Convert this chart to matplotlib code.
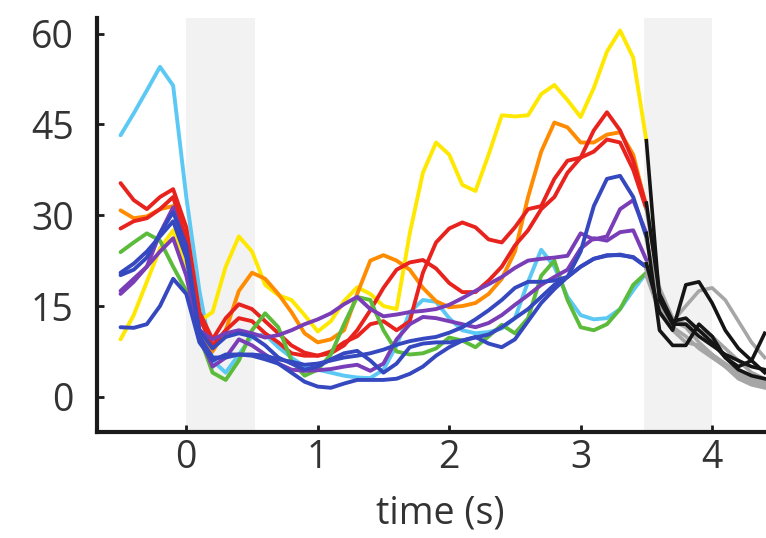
import matplotlib
matplotlib.use("Agg")
import matplotlib.pyplot as plt

# ---------------- data ----------------
time = [-0.5, -0.4, -0.3, -0.2, -0.1, 0.0, 0.1, 0.2, 0.3, 0.4, 0.5, 0.6, 0.7, 0.8, 0.9,
        1.0, 1.1, 1.2, 1.3, 1.4, 1.5, 1.6, 1.7, 1.8, 1.9, 2.0, 2.1, 2.2, 2.3, 2.4, 2.5,
        2.6, 2.7, 2.8, 2.9, 3.0, 3.1, 3.2, 3.3, 3.4, 3.5]

light_blue = [43.2, 46.8, 50.6, 54.5, 51.4, 33, 17.5, 6, 4, 7, 10, 10.3, 8.2, 6.5, 5.0,
              4.5, 4, 3.5, 3.2, 3.1, 4.5, 8.5, 14, 16, 15.7, 13, 11, 10.5, 10.7, 11.3, 13,
              19, 24.3, 21.5, 16.5, 13.5, 12.8, 13, 14.5, 17.6, 20.5]
yellow = [9.5, 13.5, 19, 24.5, 27.5, 21, 12.5, 14, 21.5, 26.5, 24, 18.5, 16.8, 16, 13.5,
          10.8, 12.5, 15.8, 18.1, 17, 15, 14.5, 27, 37, 42, 40, 35, 34, 40, 46.5, 46.3,
          46.5, 50, 51.5, 49, 46.2, 51, 57, 60.5, 56, 42.3]
orange = [30.8, 29.5, 29.8, 31, 31.5, 24, 11, 7.5, 11, 17.5, 20.5, 19.5, 17, 14, 10.5,
          9, 9.5, 11, 17, 22.5, 23.4, 22.5, 21, 18, 15.8, 14.8, 15, 15.5, 17, 19.5, 24,
          33, 40.5, 45.3, 44.5, 42, 42, 43.3, 43.7, 40, 31.3]
red_a = [35.3, 32.5, 31, 33, 34.3, 28, 14, 9.5, 13, 15.3, 14.5, 12.5, 10.5, 8.5, 7.3,
         6.8, 7.2, 8.5, 11, 14.3, 18, 21, 22.2, 22.6, 21.2, 18.8, 17.3, 17.3, 19.2, 21.5, 25,
         27.5, 31, 33, 37, 39.5, 44, 47, 44, 39, 31.5]
red_b = [27.8, 29, 29.5, 31, 33, 26, 13, 8.5, 11, 13, 12.5, 10.5, 9, 7.2, 6.8,
         6.8, 7.5, 9, 10, 12, 12.5, 11, 12.5, 20.5, 25.5, 27.8, 28.8, 28, 26, 25.5, 28,
         31, 31.5, 36, 39, 39.5, 40.5, 42.5, 42, 37.5, 31]
green = [23.9, 25.5, 27, 25.8, 21.5, 17.5, 10, 4, 2.8, 6, 11, 13.8, 11.5, 6, 3.5,
         4.5, 7, 12, 16.5, 16, 11, 7.5, 7, 7.2, 8, 9.8, 9.3, 8.2, 10, 11.9, 10.5,
         13, 20, 22.5, 16, 11.5, 11, 12, 14.5, 18.5, 20.5]
purple_a = [17, 19, 21.5, 27, 31.3, 24, 11, 9.5, 10.5, 11, 10.5, 9.8, 10.2, 11, 12,
            12.8, 13.8, 15.3, 16.5, 14.5, 13.3, 13.6, 14, 14.2, 14.5, 15.2, 16.3, 17.5, 18.6, 19.8, 21.3,
            22.5, 22.8, 23, 23.3, 27, 26, 26.5, 31, 32.5, 27]
purple_b = [17.5, 19.5, 21.5, 24, 26.2, 20, 10, 5, 6.5, 9.5, 8.5, 7, 5.5, 4.5, 4.3,
            4.4, 4.6, 5, 5.3, 4.3, 5.5, 9.5, 12, 13.2, 13, 12.5, 12, 11.5, 12.2, 13.5, 15.2,
            16.8, 18.5, 19.8, 21, 24.5, 26.2, 25.8, 27.2, 27.5, 22.6]
blue_a = [11.5, 11.4, 12, 15, 19.5, 17, 9, 6, 7, 7, 6.8, 6.2, 5.5, 4, 2.5,
          1.7, 1.5, 2.2, 2.8, 2.8, 2.8, 3, 3.8, 5, 6.8, 8.2, 9.3, 9.9, 8.8, 8.2, 9.5,
          12.5, 15.5, 17.8, 19.8, 24, 31.5, 36, 36.5, 33, 26.4]
blue_b = [20.5, 22, 24, 26.5, 29, 23, 11, 8, 9.9, 10.5, 10, 8.5, 6.5, 5.5, 4.5,
          5, 6.2, 7.2, 7.6, 6, 4, 5.5, 8.2, 8.8, 9, 9, 9.3, 9.8, 10.3, 11.5, 13,
          14.5, 16.5, 18.5, 19.8, 21.5, 22.8, 23.3, 23.5, 23, 21.5]
blue_c = [20.1, 21, 23, 27, 30.5, 25, 10, 6.5, 6.5, 7, 7, 6.8, 6.2, 5.8, 5.3,
          5.5, 6, 6.5, 6.8, 7.2, 7.8, 8.6, 9.2, 9.6, 9.9, 10.6, 11.5, 12.8, 14.3, 16, 18,
          19, 19, 19.2, 19.8, 21.5, 22.8, 23.4, 23.4, 23.1, 21.4]

series = [
    (light_blue, "#5CC8F4"), (yellow, "#FFE800"), (orange, "#FF8C00"),
    (red_a, "#E8231E"), (red_b, "#E8231E"), (green, "#5CBB3A"),
    (purple_a, "#7A3DB8"), (purple_b, "#7A3DB8"),
    (blue_a, "#3548C0"), (blue_b, "#3548C0"), (blue_c, "#3548C0"),
]

post_time = [3.5, 3.6, 3.7, 3.8, 3.9, 4.0, 4.1, 4.2, 4.3, 4.4]
post_gray = [
    [21, 15, 12.5, 15, 17.5, 18, 16, 12.5, 9, 6.5],
    [31, 18, 13, 12, 11, 10, 8, 6, 4, 3],
    [20, 14, 11, 9, 8.5, 7, 5, 3.5, 2.5, 2],
    [26, 16, 12.5, 11.5, 9, 7, 5.5, 4, 3, 2.5],
    [22, 15, 11.5, 10, 8, 6.5, 5, 3, 2, 1.5],
]
post_black = [
    [42.3, 16, 12, 12, 10, 8.5, 7, 6, 5, 4.5],
    [22, 14, 11, 18.5, 19, 15.5, 11, 8, 6, 4],
    [27, 11, 8.5, 8.5, 12, 10, 6.5, 5, 6, 10.5],
    [32, 17, 12.5, 13, 11, 9, 6.5, 4.5, 3.5, 3],
]

shaded = [(0.0, 0.52), (3.48, 4.0)]
yticks = [0, 15, 30, 45, 60]
xticks = [0, 1, 2, 3, 4]

# ---------------- plot ----------------
plt.rcParams['font.family'] = ['Open Sans', 'DejaVu Sans']
fig = plt.figure(figsize=(7.66, 5.38), dpi=100)
ax = fig.add_axes([0.127, 0.197, 0.873, 0.77])

for a, b in shaded:
    ax.axvspan(a, b, color="#F2F2F2", zorder=0, lw=0)

for vals, col in series:
    ax.plot(time, vals, color=col, lw=2.8, solid_joinstyle='round',
            solid_capstyle='round', zorder=2)

for vals in post_gray:
    ax.plot(post_time, vals, color="#A6A6A6", lw=2.6, solid_joinstyle='round', zorder=3)
for vals in post_black:
    ax.plot(post_time, vals, color="#151515", lw=2.6, solid_joinstyle='round', zorder=3)

ax.set_xlim(-0.677, 4.41)
ax.set_ylim(-5.8, 62.6)
ax.set_xticks(xticks)
ax.set_yticks(yticks)
ax.spines['top'].set_visible(False)
ax.spines['right'].set_visible(False)
for s in ('left', 'bottom'):
    ax.spines[s].set_linewidth(3)
    ax.spines[s].set_color("#1a1a1a")
ax.tick_params(direction='in', length=5, width=2, colors="#1a1a1a",
               labelsize=27, labelcolor="#333333")
ax.tick_params(axis='y', pad=17)
ax.tick_params(axis='x', pad=5)
ax.set_xlabel("time (s)", fontsize=27, color="#333333")
ax.xaxis.set_label_coords(0.513, -0.15)
ax.set_facecolor("white")

fig.savefig("out.png", dpi=100)
